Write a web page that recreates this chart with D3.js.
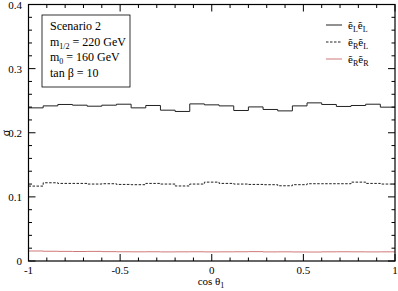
<!DOCTYPE html>
<html>
<head>
<meta charset="utf-8">
<script src="https://cdn.jsdelivr.net/npm/d3@7"></script>
<style>
  body { margin: 0; background: #fff; }
  text { font-family: "Liberation Serif", "DejaVu Serif", serif; fill: #000; }
</style>
</head>
<body>
<svg id="chart" width="398" height="291"></svg>
<script>
// 25 bins over cos theta in [-1, 1]
const binEdges = d3.range(26).map(i => -1 + i * 0.08);

// cross sections per bin
const sigmaLL = [0.2388, 0.2419, 0.2441, 0.2430, 0.2414, 0.2430, 0.2445, 0.2388, 0.2425, 0.2352,
                 0.2332, 0.2450, 0.2435, 0.2419, 0.2347, 0.2403, 0.2363, 0.2341, 0.2419, 0.2466,
                 0.2441, 0.2410, 0.2425, 0.2445, 0.2399];
const sigmaRL = [0.1168, 0.1220, 0.1210, 0.1210, 0.1200, 0.1205, 0.1194, 0.1190, 0.1210, 0.1200,
                 0.1170, 0.1200, 0.1230, 0.1210, 0.1200, 0.1194, 0.1190, 0.1173, 0.1190, 0.1205,
                 0.1205, 0.1205, 0.1230, 0.1210, 0.1200];
const sigmaRR = [0.0156, 0.0152, 0.0150, 0.0148, 0.0150, 0.0146, 0.0144, 0.0143, 0.0144, 0.0142,
                 0.0143, 0.0144, 0.0142, 0.0143, 0.0144, 0.0146, 0.0142, 0.0143, 0.0141, 0.0140,
                 0.0143, 0.0144, 0.0143, 0.0142, 0.0143];

const xMajor = [-1, -0.5, 0, 0.5, 1];
const xMinor = d3.range(-10, 11).map(i => i / 10);
const yMajor = [0, 0.1, 0.2, 0.3, 0.4];
const yMinor = d3.range(0, 21).map(i => i * 0.02);

const infoLines = ["Scenario 2", "m|1/2| = 220 GeV", "m|0| = 160 GeV", "tan β = 10"];
const series = [
  {name: ["L", "L"], values: sigmaLL, color: "#222", dash: null},
  {name: ["R", "L"], values: sigmaRL, color: "#222", dash: "2.5,1.5"},
  {name: ["R", "R"], values: sigmaRR, color: "#d07878", dash: null}
];

const svg = d3.select("#chart");
const plotL = 28.5, plotR = 395, plotT = 4.5, plotB = 261;

const x = d3.scaleLinear().domain([-1, 1]).range([plotL, plotR]);
const y = d3.scaleLinear().domain([0, 0.4]).range([plotB, plotT]);

// step lines
const stepLine = d3.line()
  .x(d => x(d[0]))
  .y(d => y(d[1]))
  .curve(d3.curveStepAfter);

series.forEach(s => {
  const pts = s.values.map((v, i) => [binEdges[i], v]);
  pts.push([1, s.values[s.values.length - 1]]);
  svg.append("path")
    .attr("d", stepLine(pts))
    .attr("fill", "none")
    .attr("stroke", s.color)
    .attr("stroke-width", 1)
    .attr("stroke-dasharray", s.dash);
});

// frame
svg.append("rect")
  .attr("x", plotL).attr("y", plotT)
  .attr("width", plotR - plotL).attr("height", plotB - plotT)
  .attr("fill", "none").attr("stroke", "#000").attr("stroke-width", 1.2);

// ticks pointing inward on all four sides
const ticks = svg.append("g").attr("stroke", "#000").attr("stroke-width", 1);
xMinor.forEach(v => {
  const len = xMajor.some(m => Math.abs(m - v) < 1e-9) ? 7 : 3.5;
  ticks.append("line").attr("x1", x(v)).attr("x2", x(v)).attr("y1", plotB).attr("y2", plotB - len);
  ticks.append("line").attr("x1", x(v)).attr("x2", x(v)).attr("y1", plotT).attr("y2", plotT + len);
});
yMinor.forEach(v => {
  const len = yMajor.some(m => Math.abs(m - v) < 1e-9) ? 7 : 3.5;
  ticks.append("line").attr("y1", y(v)).attr("y2", y(v)).attr("x1", plotL).attr("x2", plotL + len);
  ticks.append("line").attr("y1", y(v)).attr("y2", y(v)).attr("x1", plotR).attr("x2", plotR - len);
});

// tick labels
svg.selectAll(".xl").data(xMajor).join("text")
  .attr("x", d => x(d)).attr("y", 274)
  .attr("text-anchor", "middle").attr("font-size", 11)
  .text(d => d);
svg.selectAll(".yl").data(yMajor).join("text")
  .attr("x", 22).attr("y", d => y(d) + 4)
  .attr("text-anchor", "end").attr("font-size", 11)
  .text(d => d);

// axis titles
const xt = svg.append("text").attr("x", 211).attr("y", 285)
  .attr("text-anchor", "middle").attr("font-size", 11);
xt.append("tspan").text("cos θ");
xt.append("tspan").attr("font-size", 8).attr("dy", 2.5).text("1");

svg.append("text")
  .attr("transform", "translate(10,133) rotate(-90)")
  .attr("text-anchor", "middle").attr("font-size", 12)
  .text("σ");

// info box
svg.append("rect")
  .attr("x", 42).attr("y", 15).attr("width", 88).attr("height", 72)
  .attr("fill", "#fff").attr("stroke", "#000").attr("stroke-width", 0.8);
infoLines.forEach((line, i) => {
  const t = svg.append("text").attr("x", 50).attr("y", 30 + i * 15.5).attr("font-size", 12);
  const parts = line.split("|");
  t.append("tspan").text(parts[0]);
  if (parts.length > 1) {
    t.append("tspan").attr("font-size", 8).attr("dy", 3).text(parts[1]);
    t.append("tspan").attr("dy", -3).text(parts[2]);
  }
});

// legend
series.forEach((s, i) => {
  const ly = 25 + i * 17;
  svg.append("line")
    .attr("x1", 326).attr("x2", 342).attr("y1", ly).attr("y2", ly)
    .attr("stroke", s.color).attr("stroke-width", 1)
    .attr("stroke-dasharray", s.dash);
  const t = svg.append("text").attr("x", 348).attr("y", ly + 4).attr("font-size", 11);
  t.append("tspan").text("ẽ");
  t.append("tspan").attr("font-size", 8).attr("dy", 3).text(s.name[0]);
  t.append("tspan").attr("dy", -3).text("ẽ");
  t.append("tspan").attr("font-size", 8).attr("dy", 3).text(s.name[1]);
});
</script>
</body>
</html>
